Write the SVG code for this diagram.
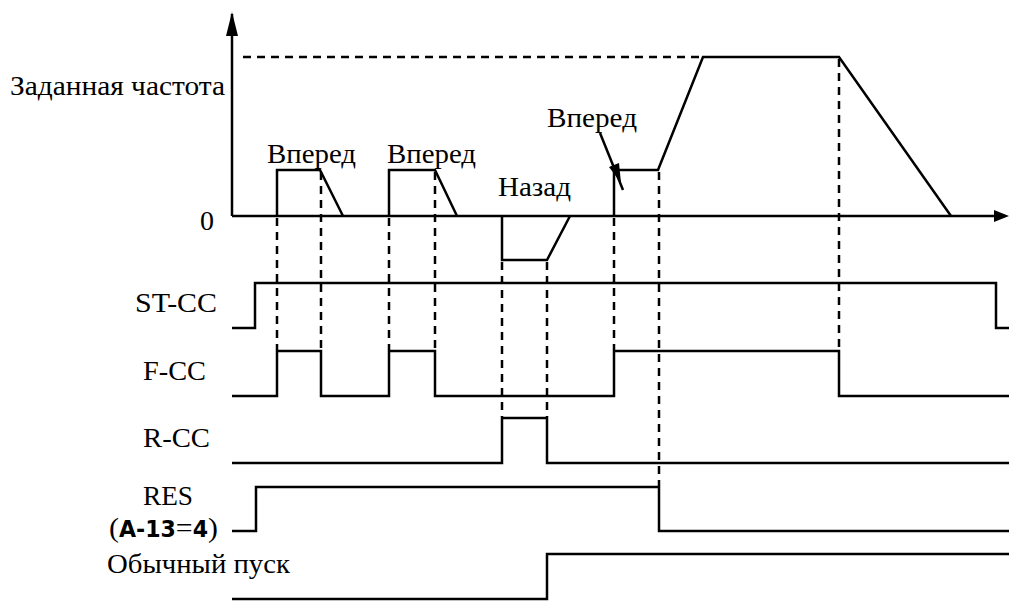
<svg xmlns="http://www.w3.org/2000/svg" width="1009" height="601" viewBox="0 0 1009 601">
<defs>
<style>
.sig{fill:none;stroke:#000;stroke-width:2.5;stroke-linejoin:miter}
.dash{fill:none;stroke:#000;stroke-width:2.5;stroke-dasharray:8 6}
.ax{fill:none;stroke:#000;stroke-width:2.5}
.t{font-family:"Liberation Serif","Times New Roman",serif;font-size:28px;fill:#000}
.seg{font-family:"DejaVu Sans Condensed","DejaVu Sans",sans-serif;font-weight:bold;font-size:23px}
</style>
</defs>
<rect width="1009" height="601" fill="#fff"/>

<g id="axes">
<line class="ax" x1="232" y1="216" x2="232" y2="14"/>
<path d="M226,36 L232,12 L238,36 z" fill="#000"/>
<line class="ax" x1="232" y1="216" x2="996" y2="216"/>
<path d="M994,210 L1009,216 L994,222 z" fill="#000"/>
</g>

<g id="labels">
<text class="t" x="10" y="95" textLength="215" lengthAdjust="spacingAndGlyphs">Заданная частота</text>
<text class="t" x="200" y="230">0</text>
<text class="t" x="267" y="163" textLength="89" lengthAdjust="spacingAndGlyphs">Вперед</text>
<text class="t" x="387" y="163" textLength="89" lengthAdjust="spacingAndGlyphs">Вперед</text>
<text class="t" x="498" y="196" textLength="73" lengthAdjust="spacingAndGlyphs">Назад</text>
<text class="t" x="547" y="127" textLength="90" lengthAdjust="spacingAndGlyphs">Вперед</text>
<text class="t" x="135" y="312" textLength="82" lengthAdjust="spacingAndGlyphs">ST-CC</text>
<text class="t" x="143" y="380" textLength="63" lengthAdjust="spacingAndGlyphs">F-CC</text>
<text class="t" x="143" y="447" textLength="67" lengthAdjust="spacingAndGlyphs">R-CC</text>
<text class="t" x="143" y="505" textLength="50" lengthAdjust="spacingAndGlyphs">RES</text>
<text class="t" x="109" y="537" textLength="109" lengthAdjust="spacingAndGlyphs">(<tspan class="seg">A-13</tspan>=<tspan class="seg">4</tspan>)</text>
<text class="t" x="107" y="573" textLength="183" lengthAdjust="spacingAndGlyphs">Обычный пуск</text>
</g>

<g id="connectors">
<line class="dash" x1="243" y1="57" x2="704" y2="57"/>
<line class="dash" x1="277" y1="218" x2="277" y2="350"/>
<line class="dash" x1="321" y1="172" x2="321" y2="350"/>
<line class="dash" x1="389" y1="218" x2="389" y2="350"/>
<line class="dash" x1="435" y1="172" x2="435" y2="350"/>
<line class="dash" x1="502" y1="262" x2="502" y2="417"/>
<line class="dash" x1="547" y1="262" x2="547" y2="417"/>
<line class="dash" x1="614" y1="218" x2="614" y2="350"/>
<line class="dash" x1="659" y1="172" x2="659" y2="486"/>
<line class="dash" x1="839" y1="59" x2="839" y2="350"/>
<line class="ax" x1="600" y1="133" x2="623" y2="190"/>
<path d="M609,167 L619,163 L621,183 z" fill="#000"/>
</g>

<g id="freq">
<polyline class="sig" points="277,216 277,170 320,170 343,216"/>
<polyline class="sig" points="389,216 389,170 435,170 457,216"/>
<polyline class="sig" points="502,216 502,260 547,260 570,216"/>
<polyline class="sig" points="614,216 614,170 658,170 703,57 839,57 951,216"/>
</g>

<g id="st-cc"><polyline class="sig" points="232,328 255,328 255,283 996,283 996,328 1009,328"/></g>
<g id="f-cc"><polyline class="sig" points="232,396 277,396 277,351 321,351 321,396 389,396 389,351 435,351 435,396 614,396 614,351 839,351 839,396 1009,396"/></g>
<g id="r-cc"><polyline class="sig" points="232,463 502,463 502,418 547,418 547,463 1009,463"/></g>
<g id="res"><polyline class="sig" points="232,531 256,531 256,487 659,487 659,531 1009,531"/></g>
<g id="normal"><polyline class="sig" points="232,599 547,599 547,554 1009,554"/></g>
</svg>
